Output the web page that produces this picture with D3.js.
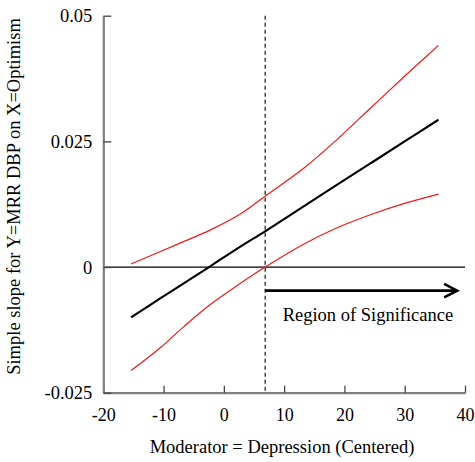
<!DOCTYPE html>
<html>
<head>
<meta charset="utf-8">
<script src="https://cdn.jsdelivr.net/npm/d3@7"></script>
<style>
  html, body { margin: 0; padding: 0; background: #fff; }
  svg { display: block; }
  svg text { font-family: "Liberation Serif", "Times New Roman", serif !important; fill: #000; }
</style>
</head>
<body>
<div id="chart"></div>
<script>
// ---- Data ----
const moderator = [-15.4, -10.5, -6.6, -2.2, 2.8, 6.85, 13.3, 18.8, 24.3, 29.85, 35.6];
const simpleSlope = [-0.0100, -0.0062, -0.0032, 0.0002, 0.0041, 0.0071, 0.0121, 0.0164, 0.0206, 0.0249, 0.0293];
const upperCI = [0.0006, 0.0031, 0.0051, 0.0074, 0.0106, 0.0141, 0.0197, 0.0254, 0.0316, 0.0378, 0.0441];
const lowerCI = [-0.0206, -0.0160, -0.0118, -0.0074, -0.0032, 0.0000, 0.0046, 0.0078, 0.0104, 0.0126, 0.0145];
const xTicks = [-20, -10, 0, 10, 20, 30, 40];
const xTickLabels = ["-20", "-10", "0", "10", "20", "30", "40"];
const yTicks = [-0.025, 0, 0.025, 0.05];
const yTickLabels = ["-0.025", "0", "0.025", "0.05"];
const jnPoint = 6.85;          // Johnson-Neyman boundary
const arrowEnd = 38.7;
const arrowY = -0.0047;
const regionLabel = "Region of Significance";
const regionLabelPos = [23.9, -0.0108];
const xTitle = "Moderator = Depression (Centered)";
const yTitle = "Simple slope for Y=MRR DBP on X=Optimism";

(function () {
const W = 475, H = 462;
const mLeft = 103.3, mRight = 465, mTop = 15.7, mBottom = 392.7;
const FONT = "'Liberation Serif', 'Times New Roman', serif";

const svg = d3.select("#chart").append("svg").attr("width", W).attr("height", H)
  .attr("font-family", FONT);

const x = d3.scaleLinear().domain([-20, 40]).range([mLeft, mRight]);
const y = d3.scaleLinear().domain([-0.025, 0.05]).range([mBottom, mTop]);

// zero line
svg.append("line")
  .attr("x1", x(-20)).attr("x2", x(40))
  .attr("y1", y(0)).attr("y2", y(0))
  .attr("stroke", "#000").attr("stroke-width", 1.2);

// Dashed J-N line
svg.append("line")
  .attr("x1", x(jnPoint)).attr("x2", x(jnPoint))
  .attr("y1", y(0.05)).attr("y2", y(-0.025))
  .attr("stroke", "#000").attr("stroke-width", 1.1)
  .attr("stroke-dasharray", "4,3");

const line = d3.line().x(d => x(d[0])).y(d => y(d[1])).curve(d3.curveCatmullRom.alpha(0.5));

svg.append("path").datum(d3.zip(moderator, upperCI))
  .attr("d", line).attr("fill", "none").attr("stroke", "#f01818").attr("stroke-width", 1.2);
svg.append("path").datum(d3.zip(moderator, lowerCI))
  .attr("d", line).attr("fill", "none").attr("stroke", "#f01818").attr("stroke-width", 1.2);
svg.append("path").datum(d3.zip(moderator, simpleSlope))
  .attr("d", line).attr("fill", "none").attr("stroke", "#000").attr("stroke-width", 2.1);

// Axes
const xAxis = d3.axisBottom(x).tickValues(xTicks).tickFormat((d, i) => xTickLabels[i])
  .tickSizeInner(-7).tickSizeOuter(0);
const gx = svg.append("g").attr("transform", `translate(0,${mBottom})`).call(xAxis)
  .attr("font-family", FONT).attr("font-size", 18);
gx.select(".domain").attr("stroke", "#808080").attr("stroke-width", 2.2);
gx.selectAll(".tick line").attr("stroke", "#444").attr("stroke-width", 1.3);
gx.selectAll(".tick text").attr("y", 16).attr("dy", "0.71em").attr("fill", "#000");

const yAxis = d3.axisLeft(y).tickValues(yTicks).tickFormat((d, i) => yTickLabels[i])
  .tickSizeInner(-8).tickSizeOuter(0);
const gy = svg.append("g").attr("transform", `translate(${mLeft},0)`).call(yAxis)
  .attr("font-family", FONT).attr("font-size", 18.5);
gy.select(".domain").attr("stroke", "#808080").attr("stroke-width", 2.2);
gy.selectAll(".tick line").attr("stroke", "#444").attr("stroke-width", 1.3);
gy.selectAll(".tick text").attr("x", -11).attr("dy", "0.34em").attr("fill", "#000");

// Arrow
const ay = y(arrowY);
svg.append("line")
  .attr("x1", x(jnPoint)).attr("x2", x(arrowEnd))
  .attr("y1", ay).attr("y2", ay)
  .attr("stroke", "#000").attr("stroke-width", 2.6);
svg.append("path")
  .attr("d", `M${x(arrowEnd) - 13},${ay - 6.7} L${x(arrowEnd)},${ay} L${x(arrowEnd) - 13},${ay + 6.7}`)
  .attr("fill", "none").attr("stroke", "#000").attr("stroke-width", 2.6)
  .attr("stroke-linejoin", "miter");

svg.append("text")
  .attr("x", x(regionLabelPos[0])).attr("y", y(regionLabelPos[1]))
  .attr("text-anchor", "middle")
  .attr("font-size", 18.5)
  .text(regionLabel);

// Titles
svg.append("text")
  .attr("x", 282).attr("y", 453.3)
  .attr("text-anchor", "middle")
  .attr("font-size", 18.5)
  .text(xTitle);

svg.append("text")
  .attr("transform", `translate(20,196.5) rotate(-90)`)
  .attr("text-anchor", "middle")
  .attr("font-size", 18.5)
  .text(yTitle);
})();
</script>
</body>
</html>
